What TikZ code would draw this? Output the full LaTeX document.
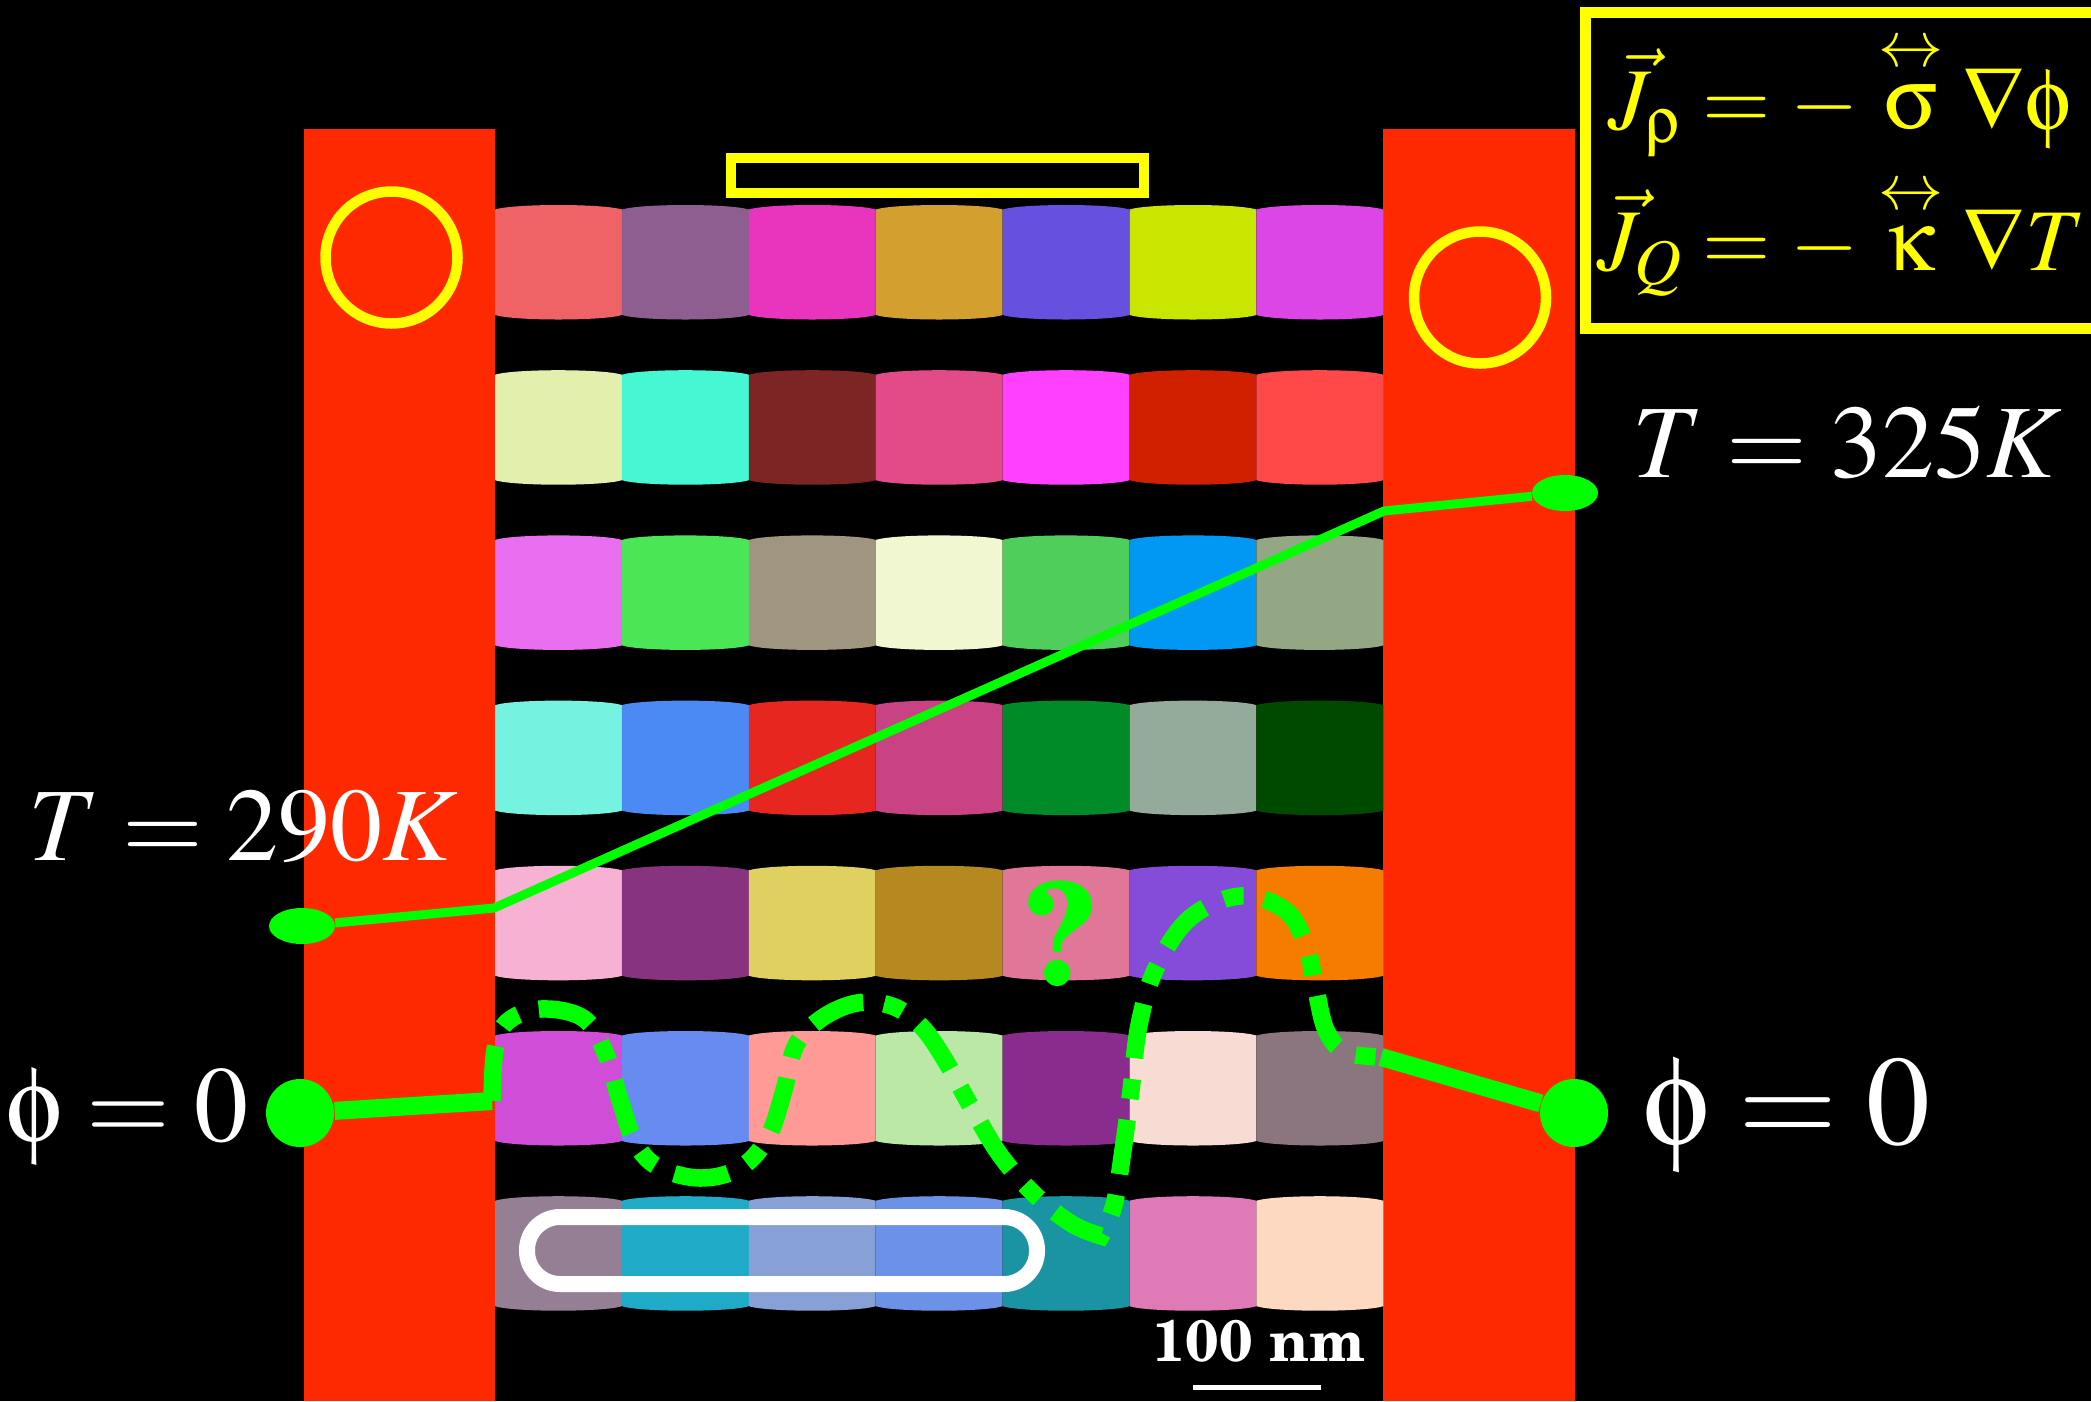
\documentclass[tikz,border=0pt]{standalone}
\usepackage{fix-cm}
\usepackage{amsmath,mathptmx}
\usepackage[Symbol]{upgreek}
\usetikzlibrary{shapes.geometric}
\DeclareSymbolFont{psySym}{U}{psy}{m}{n}
\DeclareMathSymbol{\Nab}{\mathord}{psySym}{209}
\definecolor{leadR}{RGB}{255,41,0}
\definecolor{probeG}{RGB}{0,255,0}
\definecolor{markY}{RGB}{255,255,0}
\newcommand{\barfont}{\fontencoding{T1}\fontfamily{pnc}\fontseries{b}\selectfont}
\newcommand{\XO}{495}    % left edge of the grain array
\newcommand{\YO}{205}    % top of the first row
\newcommand{\CW}{126.9}  % grain pitch across
\newcommand{\PY}{165.2}  % row pitch
\newcommand{\HC}{114.5}  % grain height
\newcommand{\BG}{4.5}    % bulge of the top and bottom edges
\newcommand{\grain}[3]{%
  \fill[#3]
    ({\XO+#1*\CW},{\YO+#2*\PY+\BG}) .. controls ({\XO+(#1+0.15)*\CW},{\YO+#2*\PY-\BG/3})
      and ({\XO+(#1+0.85)*\CW},{\YO+#2*\PY-\BG/3}) .. ({\XO+(#1+1)*\CW},{\YO+#2*\PY+\BG})
    -- ({\XO+(#1+1)*\CW},{\YO+#2*\PY+\HC-\BG}) .. controls ({\XO+(#1+0.85)*\CW},{\YO+#2*\PY+\HC+\BG/3})
      and ({\XO+(#1+0.15)*\CW},{\YO+#2*\PY+\HC+\BG/3}) .. ({\XO+#1*\CW},{\YO+#2*\PY+\HC-\BG})
    -- cycle;}

\begin{document}
\begin{tikzpicture}[x=0.1mm, y=-0.1mm,
    lead/.style={fill=leadR},
    ylw/.style={draw=markY, line width=1.05mm},
    tline/.style={draw=probeG, line width=0.9mm},
    pline/.style={draw=probeG, line width=1.8mm},
    pdash/.style={draw=probeG, line width=1.75mm, dash pattern=on 5.5mm off 2.1mm on 2mm off 2.1mm},
    tdot/.style={ellipse, fill=probeG, minimum width=6.6mm, minimum height=3.6mm, inner sep=0pt},
    pdot/.style={circle, fill=probeG, minimum size=6.8mm, inner sep=0pt},
    lab/.style={text=white, inner sep=0pt, anchor=base},
  ]
  \useasboundingbox (0,0) rectangle (2091,1401);
  \fill[black] (0,0) rectangle (2091,1401);

  %% ---- leads ----
  \fill[lead] (304,129) rectangle (495,1401);
  \fill[lead] (1383,129) rectangle (1575,1401);

  %% ---- the grains, row by row ----
  \foreach \row [count=\r from 0] in {
      {EF6366,8D5E8F,E935BD,D3A030,6550E0,C8E600,DC45E6},
      {E2EFAD,45F7D2,7D2424,E24A88,FF40FF,D02000,FF4848},
      {EA6EF0,4BE656,A09580,F1F7D1,4FCE5B,0098F3,94A784},
      {76F3E0,4B8AF5,E82620,C94384,008A28,94AA9B,004A00},
      {F7B2D3,883380,E0D060,B58820,E07698,844CD8,F57C00},
      {D04DD7,688BF2,FF9A96,BBE8A6,8A2B8E,F8DCD3,8B757E},
      {957F95,1FABC7,87A0D5,6B92E6,1A93A3,E07AB6,FDD9C2}} {
    \foreach \c [count=\i from 0] in \row {
      \definecolor{gc}{HTML}{\c}
      \grain{\i}{\r}{gc}
    }
  }

  %% ---- yellow marks ----
  \draw[ylw] (731,158) rectangle (1144,193);
  \draw[ylw] (391.5,257.5) circle[radius=6.6mm];
  \draw[ylw] (1480,297.5) circle[radius=6.6mm];
  \draw[ylw, line width=1.1mm] (2091,12.5) -- (1585,12.5) -- (1585,328.5) -- (2091,328.5);
  \node[lab, text=markY, anchor=base west, font=\fontsize{25}{31.5}\selectfont] (lbLaws) at (1597,191)
    {$\begin{aligned}
      \vec{J}_{\uprho} &= - \stackrel{\leftrightarrow}{\upsigma} \Nab\upphi \\
      \vec{J}_{Q} &= - \stackrel{\leftrightarrow}{\upkappa} \Nab T
    \end{aligned}$};

  %% ---- white capsule on the bottom row ----
  \draw[white, line width=1.6mm, rounded corners=3.3mm] (527,1217) rectangle (1037,1284);

  %% ---- temperature probe ----
  \node[tdot] (tL) at (302,926) {};
  \node[tdot] (tR) at (1565,493) {};
  \coordinate (tK1) at (494,908);
  \coordinate (tK2) at (1384,511);
  \draw[tline] (tL) -- (tK1) -- (tK2) -- (tR);

  %% ---- potential probe: the unknown path ----
  \node[pdot] (pL) at (300,1113) {};
  \node[pdot] (pR) at (1574,1113) {};
  \coordinate (pK1) at (492,1101);
  \coordinate (pK2) at (1381,1057);
  \draw[pline] (pL) -- (pK1);
  \draw[pline] (pK2) -- (pR);
  \draw[pdash] plot[smooth, tension=0.6] coordinates {(pK1) (495,1050) (507,1022) (540,1009)
      (583,1018) (605,1052) (620,1100) (635,1142) (658,1167) (700,1178) (740,1168) (768,1137)
      (784,1090) (796,1045) (822,1018) (857,1003) (892,1006) (921,1026) (945,1060) (970,1105)
      (1000,1155) (1035,1195) (1072,1224) (1101,1236)}
    -- plot[smooth, tension=0.6] coordinates {(1101,1236) (1114,1205) (1123,1150) (1131,1090)
      (1139,1025) (1156,968) (1190,918) (1240,896) (1285,910) (1306,945) (1316,990) (1326,1030)
      (1345,1052) (pK2)};
  \node[lab, text=probeG, font=\fontsize{40}{40}\barfont] (lbQ) at (1061,984) {?};

  %% ---- labels ----
  \node[lab, font=\fontsize{29.6}{30}\selectfont] (lbTcold) at (243,860) {$T = 290K$};
  \node[lab, font=\fontsize{29.6}{30}\selectfont] (lbThot) at (1847,477) {$T = 325K$};
  \node[lab, font=\fontsize{30.7}{31}\selectfont] (lbPhiL) at (127,1141) {$\upphi = 0$};
  \node[lab, font=\fontsize{36.3}{37}\selectfont] (lbPhiR) at (1787,1144) {$\upphi = 0$};

  %% ---- scale bar ----
  \node[lab, font=\fontsize{16.6}{17}\barfont] (lbScale) at (1259,1361) {100 nm};
  \draw[white, line width=0.5mm] (1193,1387.5) -- (1321,1387.5);

\end{tikzpicture}
\end{document}
